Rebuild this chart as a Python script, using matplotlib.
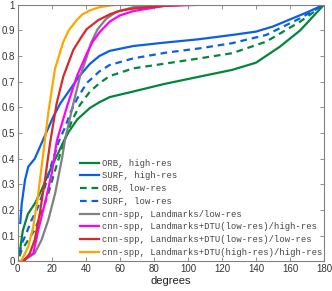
import matplotlib
matplotlib.use('Agg')
import matplotlib.pyplot as plt

# ORB / SURF curves (reach 1 at 180 degrees)
orb_hi_x = [1.5, 3, 6, 10, 14, 17, 20, 24, 27, 30, 35, 42.5, 48, 54, 68, 86, 107, 126, 140, 154, 166, 180]
orb_hi_y = [0.05, 0.12, 0.185, 0.225, 0.278, 0.325, 0.37, 0.425, 0.468, 0.505, 0.553, 0.598, 0.62, 0.64, 0.662, 0.691, 0.72, 0.746, 0.774, 0.836, 0.90, 1.0]

surf_hi_x = [1.5, 2.4, 4.3, 6.2, 10, 14, 18, 21, 25, 30.8, 36, 42.5, 48, 54, 68, 86, 106, 126, 140, 150, 158, 170, 180]
surf_hi_y = [0.15, 0.227, 0.317, 0.369, 0.40, 0.46, 0.52, 0.565, 0.615, 0.67, 0.72, 0.77, 0.80, 0.82, 0.839, 0.852, 0.865, 0.882, 0.895, 0.915, 0.937, 0.97, 1.0]

orb_lo_x = [1, 2.4, 6.2, 10, 14, 18, 22, 26, 29, 32, 36.6, 42.5, 48, 54, 68, 86, 107, 126, 146, 166, 180]
orb_lo_y = [0.02, 0.045, 0.084, 0.123, 0.188, 0.265, 0.356, 0.44, 0.50, 0.55, 0.61, 0.662, 0.694, 0.722, 0.752, 0.77, 0.791, 0.811, 0.856, 0.934, 1.0]

surf_lo_x = [1, 2.4, 4.3, 8.2, 12, 16, 20, 24, 28, 31, 35, 40.6, 48, 54, 68, 87, 107, 126, 146, 166, 180]
surf_lo_y = [0.03, 0.071, 0.097, 0.162, 0.213, 0.291, 0.382, 0.465, 0.525, 0.58, 0.635, 0.695, 0.74, 0.765, 0.791, 0.813, 0.83, 0.85, 0.882, 0.947, 1.0]

# cnn-spp curves
lm_x = [1, 4, 10, 14, 18, 22, 26, 28, 32.5, 36.6, 40.6, 43, 47, 52, 58, 68, 86, 100]
lm_y = [0, 0.006, 0.032, 0.084, 0.162, 0.265, 0.40, 0.48, 0.61, 0.72, 0.797, 0.85, 0.905, 0.945, 0.972, 0.99, 1.0, 1.0]

dtu_lo_hi_x = [1, 4, 9.2, 12, 16, 20, 23, 28.8, 34.7, 40.6, 44, 48.4, 54.3, 60, 68, 86, 110, 141]
dtu_lo_hi_y = [0, 0.008, 0.032, 0.12, 0.227, 0.343, 0.47, 0.60, 0.72, 0.81, 0.855, 0.895, 0.935, 0.958, 0.975, 0.995, 1.0, 1.0]

dtu_lo_lo_x = [1, 4, 7, 10, 13, 16, 19, 22.9, 26.8, 32.7, 38, 40.6, 47.4, 54.3, 60, 68, 86, 100, 126]
dtu_lo_lo_y = [0, 0.005, 0.03, 0.084, 0.188, 0.317, 0.46, 0.616, 0.72, 0.824, 0.88, 0.905, 0.94, 0.963, 0.976, 0.985, 0.995, 1.0, 1.0]

dtu_hi_hi_x = [1, 2.4, 6.2, 9.2, 12, 15, 18, 21.9, 26.8, 30, 34.7, 38, 42.5, 48, 54.3, 60, 70, 94]
dtu_hi_hi_y = [0, 0.006, 0.058, 0.136, 0.26, 0.42, 0.58, 0.75, 0.855, 0.9, 0.94, 0.962, 0.978, 0.99, 0.997, 1.0, 1.0, 1.0]

labels = ['ORB, high-res', 'SURF, high-res', 'ORB, low-res', 'SURF, low-res',
          'cnn-spp, Landmarks/low-res',
          'cnn-spp, Landmarks+DTU(low-res)/high-res',
          'cnn-spp, Landmarks+DTU(low-res)/low-res',
          'cnn-spp, Landmarks+DTU(high-res)/high-res']

green = '#00873c'
blue = '#0a5fe6'
dash = (0, (3, 2.2))

plt.rcParams['font.family'] = ['Liberation Sans', 'DejaVu Sans']

fig = plt.figure(figsize=(3.32, 2.91), dpi=100)
ax = fig.add_axes([0.0533, 0.1014, 0.9227, 0.8826])

lw = 1.6
ax.plot(orb_hi_x, orb_hi_y, color=green, lw=lw, label=labels[0])
ax.plot(surf_hi_x, surf_hi_y, color=blue, lw=lw, label=labels[1])
ax.plot(orb_lo_x, orb_lo_y, color=green, lw=lw, ls=dash, label=labels[2])
ax.plot(surf_lo_x, surf_lo_y, color=blue, lw=lw, ls=dash, label=labels[3])
ax.plot(lm_x, lm_y, color='#808080', lw=lw, label=labels[4])
ax.plot(dtu_lo_hi_x, dtu_lo_hi_y, color='#ff00ff', lw=lw, label=labels[5])
ax.plot(dtu_lo_lo_x, dtu_lo_lo_y, color='#d42a2a', lw=lw, label=labels[6])
ax.plot(dtu_hi_hi_x, dtu_hi_hi_y, color='#ffa500', lw=lw, label=labels[7])

ax.set_xlim(0, 180)
ax.set_ylim(0, 1)
ax.set_xticks(range(0, 181, 20))
ax.set_yticks([i / 10 for i in range(11)])
ax.set_yticklabels(['0', '0.1', '0.2', '0.3', '0.4', '0.5', '0.6', '0.7', '0.8', '0.9', '1'])
ax.tick_params(direction='in', top=True, right=True, length=3, width=0.6,
               color='#808080', labelcolor='#333333', labelsize=7, pad=2)
for s in ax.spines.values():
    s.set_color('#808080')
    s.set_linewidth(0.8)
ax.set_xlabel('degrees', fontsize=8, color='#222222', labelpad=1)

leg = ax.legend(loc='upper left', bbox_to_anchor=(0.203, 0.40), frameon=False,
                borderaxespad=0, borderpad=0, handlelength=2.2, handletextpad=0.25,
                labelspacing=0.42, prop={'family': 'Liberation Mono', 'size': 6.4})
for t in leg.get_texts():
    t.set_color('#444444')

fig.savefig('out.png', dpi=100)
